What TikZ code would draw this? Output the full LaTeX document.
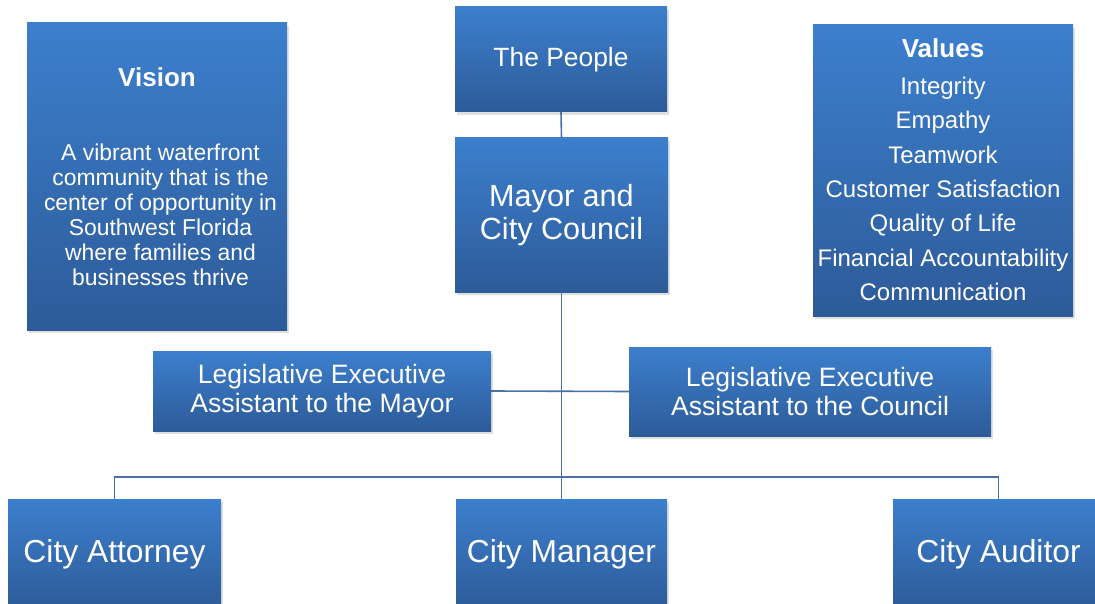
\documentclass[tikz,border=0pt]{standalone}
\usepackage{fontspec}
\setmainfont{Liberation Sans}
\usetikzlibrary{shadows}
\definecolor{boxtop}{RGB}{60,127,205}
\definecolor{boxbot}{RGB}{45,91,153}
\definecolor{linecol}{RGB}{74,112,167}
\tikzset{
  orgbox/.style={draw=none, inner sep=0pt, top color=boxtop, bottom color=boxbot,
    drop shadow={shadow xshift=2pt, shadow yshift=-3pt, opacity=0.25},
    text=white, align=center},
  conn/.style={draw=linecol, line width=1.6pt},
  wtext/.style={text=white, align=center, inner sep=0pt}
}
\begin{document}
\begin{tikzpicture}[x=1pt,y=-1pt]
\useasboundingbox (0,0) rectangle (1095,604);
% boxes
\node[orgbox, minimum width=260pt, minimum height=307pt] (vision) at (157,176.5) {};
\node[orgbox, minimum width=212pt, minimum height=105pt, font=\fontsize{26.4}{30}\selectfont] (people) at (561,59.5) {The People};
\node[orgbox, minimum width=213pt, minimum height=154pt, font=\fontsize{30.6}{32.5}\selectfont] (mayor) at (561.5,215) {Mayor and\\City Council};
\node[orgbox, minimum width=260pt, minimum height=291pt] (values) at (943,170.5) {};
\node[orgbox, minimum width=338pt, minimum height=80pt, font=\fontsize{26.6}{28.5}\selectfont] (leam) at (322,391) {Legislative Executive\\Assistant to the Mayor};
\node[orgbox, minimum width=362pt, minimum height=89pt, font=\fontsize{26.6}{28.5}\selectfont] (leac) at (810,391.5) {Legislative Executive\\Assistant to the Council};
\node[orgbox, minimum width=213pt, minimum height=110pt, font=\fontsize{31.8}{34}\selectfont] (attorney) at (114.5,554) {City Attorney};
\node[orgbox, minimum width=211pt, minimum height=110pt, font=\fontsize{31.8}{34}\selectfont] (manager) at (561.5,554) {City Manager};
\node[orgbox, minimum width=211pt, minimum height=110pt, font=\fontsize{31.8}{34}\selectfont] (auditor) at (998.5,554) {City Auditor};
% vision text
\node[wtext, font=\bfseries\fontsize{26}{28}\selectfont] (visionhead) at (157,77) {Vision};
\node[wtext, font=\fontsize{22.9}{25}\selectfont] (visiontext) at (160.5,214.5) {A vibrant waterfront\\community that is the\\center of opportunity in\\Southwest Florida\\where families and\\businesses thrive};
% values text
\node[wtext, font=\bfseries\fontsize{26}{28}\selectfont] (valueshead) at (943,48) {Values};
\node[wtext, font=\fontsize{24}{34.3}\selectfont] (valuestext) at (943,189) {Integrity\\Empathy\\Teamwork\\Customer Satisfaction\\Quality of Life\\Financial Accountability\\Communication};
% connectors
\coordinate (bus) at (561.5,477);
\draw[conn] (people.south) -- (mayor.north);
\draw[conn] (mayor.south) -- (manager.north);
\draw[conn] (leam.east) -- (leac.west);
\draw[conn] (attorney.north) |- (bus) -| (auditor.north);
\end{tikzpicture}
\end{document}
